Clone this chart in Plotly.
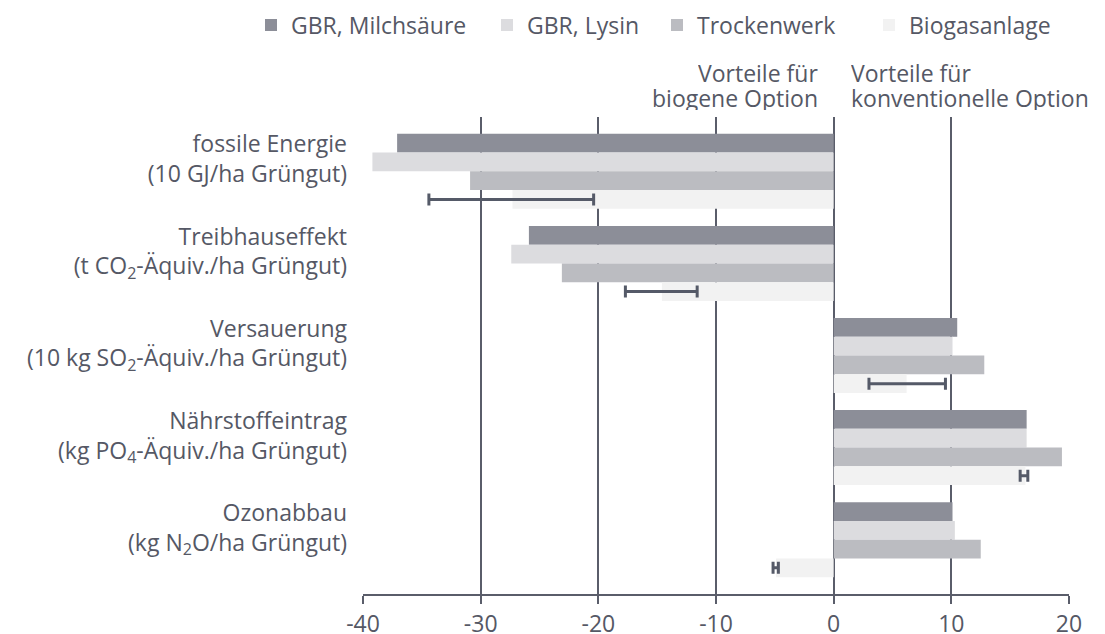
import plotly.graph_objects as go

categories = [
    "fossile Energie<br>(10 GJ/ha Grüngut)",
    "Treibhauseffekt<br>(t CO<sub>2</sub>-Äquiv./ha Grüngut)",
    "Versauerung<br>(10 kg SO<sub>2</sub>-Äquiv./ha Grüngut)",
    "Nährstoffeintrag<br>(kg PO<sub>4</sub>-Äquiv./ha Grüngut)",
    "Ozonabbau<br>(kg N<sub>2</sub>O/ha Grüngut)",
]
series_names = ["GBR, Milchsäure", "GBR, Lysin", "Trockenwerk", "Biogasanlage"]
milchsaeure = [-37.1, -25.9, 10.5, 16.4, 10.1]
lysin = [-39.2, -27.4, 10.1, 16.4, 10.3]
trockenwerk = [-30.9, -23.1, 12.8, 19.4, 12.5]
biogas = [-27.3, -14.6, 6.2, 16.3, -4.9]
biogas_err_plus = [6.9, 3.0, 3.3, 0.2, 0.2]
biogas_err_minus = [7.1, 3.1, 3.2, 0.45, 0.25]
x_ticks = [-40, -30, -20, -10, 0, 10, 20]
x_tick_labels = ["-40", "-30", "-20", "-10", "0", "10", "20"]

colors = ["#8c8e98", "#dcdcdf", "#bbbcc1", "#f2f2f2"]
text_color = "#555865"
dark = "#5a5d6a"
FONT = "Open Sans"
FS = 23

# page has an 8px body margin; figure is sized to fit the 1105x634 window
W, H = 1097, 626

fig = go.Figure()
values = [milchsaeure, lysin, trockenwerk, biogas]
legend_ids = ["legend", "legend2", "legend3", "legend4"]
for i, (name, vals) in enumerate(zip(series_names, values)):
    kw = {}
    if i == 3:
        kw["error_x"] = dict(type="data", symmetric=False, array=biogas_err_plus,
                             arrayminus=biogas_err_minus, color="#555a68",
                             thickness=3, width=6)
    fig.add_trace(go.Bar(
        y=categories, x=vals, name=name, orientation="h",
        marker=dict(color=colors[i], line=dict(width=0)),
        legend=legend_ids[i], **kw))

legend_left_px = [243, 479, 649, 861]
leg_common = dict(y=1 - 17 / H, yanchor="middle", xanchor="left",
                  xref="container", yref="container", orientation="h",
                  font=dict(family=FONT, size=FS, color=text_color),
                  bgcolor="rgba(0,0,0,0)", itemwidth=30)
layout_legends = {}
for lid, lx in zip(legend_ids, legend_left_px):
    layout_legends[lid] = dict(x=lx / W, **leg_common)

fig.update_layout(
    width=W, height=H,
    margin=dict(l=355, r=36, t=109, b=40, autoexpand=False),
    paper_bgcolor="white", plot_bgcolor="white",
    barmode="group", bargap=0.185, bargroupgap=0,
    showlegend=True,
    font=dict(family=FONT, size=FS, color=text_color),
    xaxis=dict(range=[-40, 20], tickvals=x_ticks, ticktext=x_tick_labels,
               showgrid=True, gridcolor=dark, automargin=False,
               gridwidth=2, zeroline=True, zerolinecolor=dark, zerolinewidth=2,
               showline=True, linecolor=dark, linewidth=2, ticks="outside",
               ticklen=8, tickwidth=2, tickcolor=dark,
               tickfont=dict(family=FONT, size=23, color=text_color)),
    yaxis=dict(type="category", range=[4.59, -0.59], showgrid=False,
               ticks="", ticklabelstandoff=15, ticklabelshift=12,
               automargin=False,
               tickfont=dict(family=FONT, size=FS, color=text_color)),
    **layout_legends,
)

plot_top, plot_bottom = 117, 594
def paper_y(px):
    return (plot_bottom - px) / (plot_bottom - plot_top)

header_left = [("Vorteile für", 73), ("biogene Option", 98)]
header_right = [("Vorteile für", 73), ("konventionelle Option", 98)]
for txt, ypx in header_left:
    fig.add_annotation(x=0, xref="x", y=paper_y(ypx), yref="paper",
                       xanchor="right", yanchor="middle", xshift=-15,
                       height=24, borderpad=0,
                       showarrow=False, text=txt,
                       font=dict(family=FONT, size=FS, color=text_color))
for txt, ypx in header_right:
    fig.add_annotation(x=0, xref="x", y=paper_y(ypx), yref="paper",
                       xanchor="left", yanchor="middle", xshift=16,
                       height=24, borderpad=0,
                       showarrow=False, text=txt,
                       font=dict(family=FONT, size=FS, color=text_color))

fig.write_html("out.html")
